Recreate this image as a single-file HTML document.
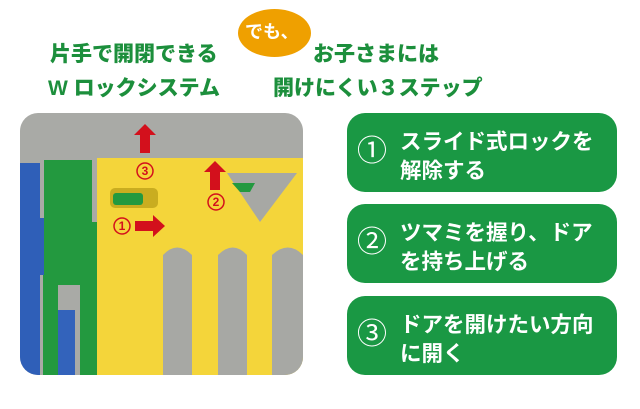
<!DOCTYPE html>
<html><head><meta charset="utf-8"><style>
body{margin:0;width:640px;height:409px;background:#fff;position:relative;overflow:hidden;font-family:"Liberation Sans","Noto Sans CJK JP",sans-serif;}
.h{position:absolute;color:#1c8f3c;font-weight:900;font-size:21px;line-height:35px;white-space:nowrap;}
.box{position:absolute;left:347px;width:270px;height:79px;background:#1a9844;border-radius:18px;color:#fff;font-weight:bold;}
.box .n{position:absolute;left:10px;top:24px;font-size:30px;line-height:30px;font-weight:normal;}
.box .t{position:absolute;left:53px;top:15px;font-size:21.5px;line-height:29px;white-space:nowrap;}
</style></head><body>
<div class="h" style="left:50px;top:37px;">片手で開閉できる</div>
<div class="h" style="left:48px;top:71px;">W ロックシステム</div>
<div style="position:absolute;left:238px;top:9px;width:73px;height:48px;border-radius:50%;background:#efa000;"></div>
<div style="position:absolute;left:245px;top:18px;color:#fff;font-weight:bold;font-size:18px;">でも、</div>
<div class="h" style="left:313px;top:37px;">お子さまには</div>
<div class="h" style="left:273px;top:71px;">開けにくい３ステップ</div>

<svg style="position:absolute;left:0;top:0" width="640" height="409">
<defs><clipPath id="c"><rect x="20" y="113" width="283" height="262" rx="18"/></clipPath></defs>
<g clip-path="url(#c)">
<rect x="20" y="113" width="283" height="262" fill="#a9aaa6"/>
<path d="M20 163 H40 V218 H50 V275 H40 V375 H20Z" fill="#2f5fb8"/>
<rect x="55" y="310" width="20" height="65" fill="#3363bb"/>
<path d="M44 160 H92 V222 H110 V275 H97 V375 H80 V285 H58 V375 H43 V275 H44Z" fill="#23993f"/>
<path d="M97 158 H303 V375 H97Z" fill="#f4d53a"/>
<path d="M163 255 Q177 240 192 255 V375 H163Z M218 255 Q233 240 247 255 V375 H218Z M272 255 Q288 240 303 255 V375 H272Z" fill="#a7a8a4"/>
<path d="M227 173 H297 L260 222Z" fill="#a7a8a4"/>
<path d="M232 183 H255 L250 192 H240Z" fill="#23993f"/>
<rect x="110" y="188" width="48" height="20" rx="5" fill="#c9ad20"/>
<rect x="113" y="193" width="30" height="12" rx="3" fill="#23993f"/>
</g>
<g fill="#d3101c">
<path d="M140 153 V135 H134 L145 124 L156 135 H150 V153Z"/>
<path d="M210 190 V172 H204 L215 161 L226 172 H220 V190Z"/>
<path d="M135 221 H153 V215 L165 226 L153 237 V231 H135Z"/>
</g>
<g fill="none" stroke="#d3101c" stroke-width="1.5"><circle cx="145" cy="171" r="8"/><circle cx="216" cy="202" r="8"/><circle cx="122" cy="226" r="8"/></g>
<g fill="#d3101c" font-size="12" font-weight="bold" text-anchor="middle" font-family="Liberation Sans,sans-serif"><text x="145" y="175">3</text><text x="216" y="206">2</text><text x="122" y="230">1</text></g>
</svg>

<div class="box" style="top:113px;"><div class="n">①</div><div class="t">スライド式ロックを<br>解除する</div></div>
<div class="box" style="top:204px;"><div class="n">②</div><div class="t">ツマミを握り、ドア<br>を持ち上げる</div></div>
<div class="box" style="top:296px;"><div class="n">③</div><div class="t">ドアを開けたい方向<br>に開く</div></div>
</body></html>
